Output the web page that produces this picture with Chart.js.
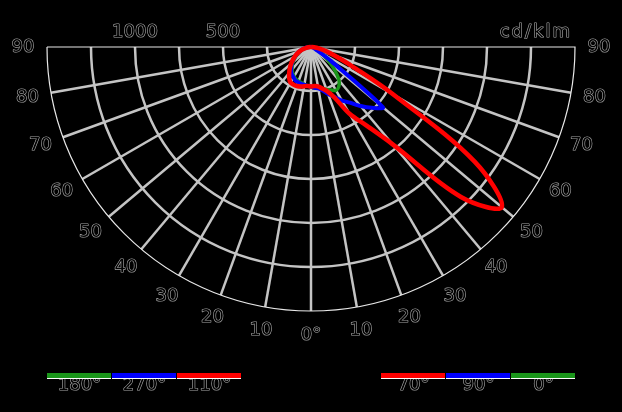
<!DOCTYPE html>
<html>
<head>
<meta charset="utf-8">
<script src="https://cdn.jsdelivr.net/npm/chart.js@4"></script>
<style>
  html, body { margin: 0; padding: 0; background: #000; }
  canvas { display: block; }
</style>
</head>
<body>
<canvas id="c" width="622" height="412"></canvas>
<script>
// Gamma angles (degrees from nadir), each side of the diagram
const gammaAngles = [0,5,10,15,20,25,30,35,40,45,50,55,60,65,70,75,80,85,90];

// Luminous intensity in cd/klm
const c70  = [225,222,227,244,267,318,438,540,722,1205,1415,1135,540,256,142,85,45,17,0];   // red, right
const c110 = [225,222,227,233,236,236,233,216,193,170,148,125,105,85,65,45,28,14,0];        // red, left
const c90  = [225,233,239,256,284,313,352,386,438,489,534,140,45,25,17,11,6,3,0];            // blue, right
const c270 = [225,222,219,216,213,210,199,190,176,159,142,122,102,85,68,51,34,17,0];         // blue, left
const c0   = [225,230,236,244,256,270,284,275,248,196,142,97,74,55,40,28,17,9,0];            // green, right
const c180 = [225,222,216,210,207,202,193,182,168,151,134,114,94,77,60,43,28,14,0];          // green, left

// Scale / tick labels
const ringValues = [250,500,750,1000,1250,1500];
const ringLabels = [{v:1000, t:'1000'}, {v:500, t:'500'}];
const unitLabel = 'cd/klm';
const angleTicks = [90,80,70,60,50,40,30,20,10];
const zeroLabel = '0°';

// Legend names
const legendLeft  = ['180°','270°','110°'];
const legendRight = ['70°','90°','0°'];

const RED = '#ff0000', BLUE = '#0000ff', GREEN = '#1a961a';
const legendLeftColors  = [GREEN, BLUE, RED];
const legendRightColors = [RED, BLUE, GREEN];

function curve(left, right) {
  const pts = [];
  for (let i = gammaAngles.length - 1; i >= 0; i--) {
    const a = -gammaAngles[i] * Math.PI / 180, I = left[i];
    pts.push({x: I * Math.sin(a), y: -I * Math.cos(a)});
  }
  for (let i = 1; i < gammaAngles.length; i++) {
    const a = gammaAngles[i] * Math.PI / 180, I = right[i];
    pts.push({x: I * Math.sin(a), y: -I * Math.cos(a)});
  }
  return pts;
}

const FONT = '18px "DejaVu Sans"';
function outlinedText(ctx, t, x, y, align, spacing) {
  ctx.save();
  ctx.font = FONT;
  if (spacing) ctx.letterSpacing = spacing;
  ctx.textAlign = align || 'center';
  ctx.textBaseline = 'middle';
  ctx.lineJoin = 'round';
  ctx.strokeStyle = '#a8a8a8';
  ctx.lineWidth = 1.2;
  ctx.strokeText(t, x, y);
  ctx.fillStyle = '#000';
  ctx.fillText(t, x, y);
  ctx.restore();
}

const polarGrid = {
  id: 'polarGrid',
  beforeDatasetsDraw(chart) {
    const {ctx, scales: {x, y}} = chart;
    const cx = x.getPixelForValue(0), cy = y.getPixelForValue(0);
    const k = (x.getPixelForValue(1500) - cx) / 1500;
    ctx.save();
    ctx.strokeStyle = '#c4c4c4';
    ctx.lineWidth = 2.5;
    ringValues.slice(0, -1).forEach(v => {
      ctx.beginPath();
      ctx.arc(cx, cy, v * k, 0, Math.PI);
      ctx.stroke();
    });
    for (let g = -80; g <= 80; g += 10) {
      const a = g * Math.PI / 180;
      ctx.beginPath();
      ctx.moveTo(cx, cy);
      ctx.lineTo(cx + 1500 * k * Math.sin(a), cy + 1500 * k * Math.cos(a));
      ctx.stroke();
    }
    ctx.strokeStyle = '#e8e8e8';
    ctx.lineWidth = 1.2;
    ctx.beginPath();
    ctx.moveTo(cx - 1500 * k, cy);
    ctx.lineTo(cx + 1500 * k, cy);
    ctx.arc(cx, cy, 1500 * k, 0, Math.PI);
    ctx.stroke();
    ctx.restore();
  },
  afterDraw(chart) {
    const {ctx, scales: {x, y}} = chart;
    const cx = x.getPixelForValue(0), cy = y.getPixelForValue(0);
    const k = (x.getPixelForValue(1500) - cx) / 1500;
    ringLabels.forEach(r => outlinedText(ctx, r.t, x.getPixelForValue(-r.v), 32));
    outlinedText(ctx, unitLabel, x.getPixelForValue(1500) - 3, 32, 'right', '2px');
    const lr = 1636 * k;
    angleTicks.forEach(g => {
      const a = g * Math.PI / 180;
      outlinedText(ctx, String(g), cx - lr * Math.sin(a), cy + lr * Math.cos(a));
      outlinedText(ctx, String(g), cx + lr * Math.sin(a), cy + lr * Math.cos(a));
    });
    outlinedText(ctx, zeroLabel, cx, cy + lr);
    const bw = 65, by = 373;
    function group(names, colors, x0) {
      names.forEach((n, i) => {
        const bx = x0 + i * bw;
        outlinedText(ctx, n, bx + bw / 2, 385);
        ctx.fillStyle = colors[i];
        ctx.fillRect(bx, by, bw - 1, 5);
        ctx.fillStyle = '#ffffff';
        ctx.fillRect(bx, by + 5, bw - 1, 1);
      });
    }
    group(legendLeft, legendLeftColors, x.getPixelForValue(-1500));
    group(legendRight, legendRightColors, x.getPixelForValue(1500) - 3 * bw + 1);
  }
};

new Chart(document.getElementById('c'), {
  type: 'scatter',
  data: {
    datasets: [
      {label: 'C70 / C110', data: curve(c110, c70), borderColor: RED, borderWidth: 4.5, tension: 0.35},
      {label: 'C90 / C270', data: curve(c270, c90), borderColor: BLUE, borderWidth: 4, tension: 0.25},
      {label: 'C0 / C180', data: curve(c180, c0), borderColor: GREEN, borderWidth: 3.5, tension: 0.3}
    ].map(d => Object.assign(d, {showLine: true, pointRadius: 0, fill: false, clip: false}))
  },
  options: {
    responsive: false,
    animation: false,
    devicePixelRatio: 1,
    layout: {padding: {left: 47, right: 47, top: 47, bottom: 101}},
    plugins: {legend: {display: false}, tooltip: {enabled: false}},
    scales: {
      x: {type: 'linear', min: -1500, max: 1500, display: false},
      y: {type: 'linear', min: -1500, max: 0, display: false}
    }
  },
  plugins: [polarGrid]
});
</script>
</body>
</html>
